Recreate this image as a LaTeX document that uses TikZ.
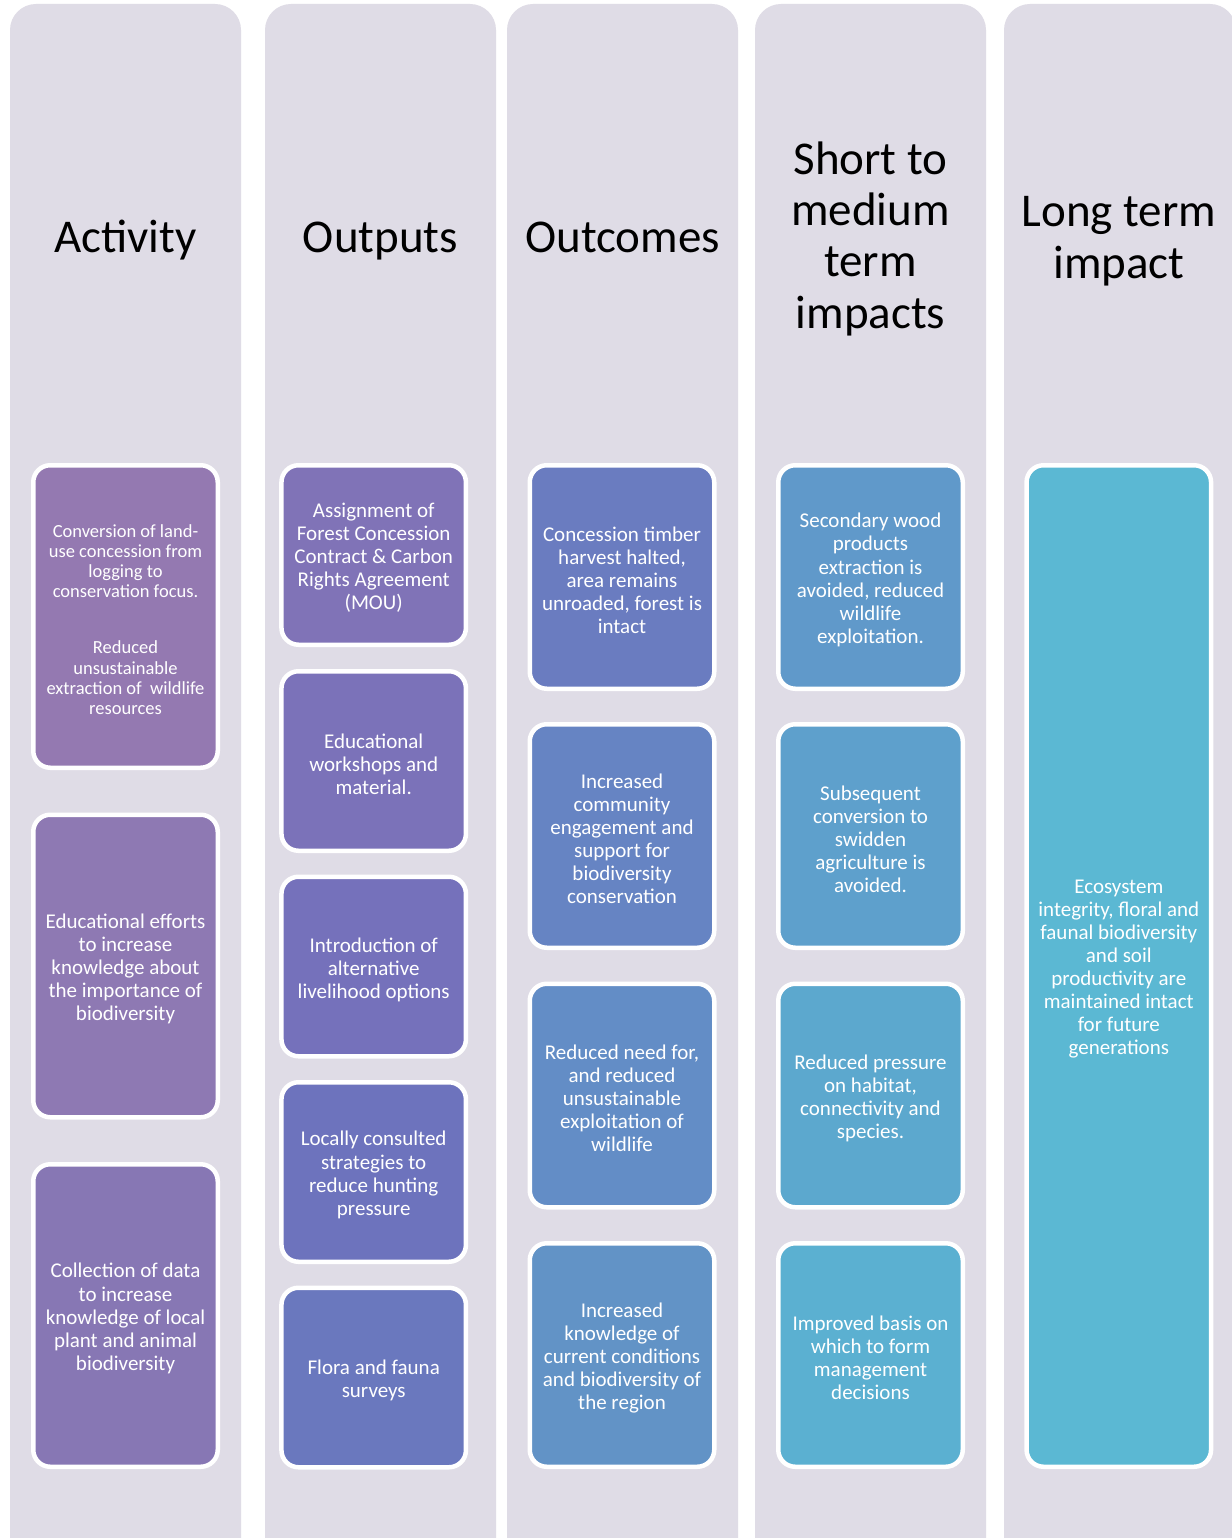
\documentclass[tikz,border=0pt]{standalone}
\usepackage{fontspec}
\setmainfont{Carlito}
\definecolor{lanec}{HTML}{DFDCE6}
\definecolor{ca1}{HTML}{9479B1}
\definecolor{ca2}{HTML}{8E79B3}
\definecolor{ca3}{HTML}{8777B4}
\definecolor{cb1}{HTML}{8073B7}
\definecolor{cb2}{HTML}{7B72B9}
\definecolor{cb3}{HTML}{7571BB}
\definecolor{cb4}{HTML}{6D73BD}
\definecolor{cb5}{HTML}{6A78BE}
\definecolor{cc1}{HTML}{6A7CC0}
\definecolor{cc2}{HTML}{6684C3}
\definecolor{cc3}{HTML}{638DC6}
\definecolor{cc4}{HTML}{6293C6}
\definecolor{cd1}{HTML}{6099CA}
\definecolor{cd2}{HTML}{5EA0CC}
\definecolor{cd3}{HTML}{5CA8CE}
\definecolor{cd4}{HTML}{5BB0D1}
\definecolor{ce1}{HTML}{5BB8D3}
\tikzset{
  lane/.style={fill=lanec, rounded corners=26pt},
  title/.style={align=center, text=black, font=\fontsize{47}{51.3}\selectfont, anchor=base},
  card/.style={draw=white, line width=4.5pt, rounded corners=17pt, rectangle,
    inner sep=0pt, minimum width=184.5pt},
  cardtext/.style={align=center, text=white, inner sep=0pt,
    font=\fontsize{21}{23.1}\selectfont},
  smalltext/.style={cardtext, font=\fontsize{18.5}{20.2}\selectfont}
}
% #1 name, #2 x, #3 y, #4 height, #5 colour, #6 text style, #7 text
\newcommand\mycard[7]{%
  \node[card, fill=#5, minimum height=#4] (#1) at (#2,#3) {};
  \node[#6] (#1t) at ([yshift=-3pt]#1.center) {#7};}
\begin{document}
\begin{tikzpicture}[x=1pt,y=-1pt]
\useasboundingbox (0,0) rectangle (1231,1538);
\fill[white] (0,0) rectangle (1231,1538);
% lanes
\fill[lane] (10,4) rectangle (241,1575);
\fill[lane] (265,4) rectangle (496,1575);
\fill[lane] (507,4) rectangle (738,1575);
\fill[lane] (755,4) rectangle (986,1575);
\fill[lane] (1004,4) rectangle (1236,1575);
% titles (base = baseline of the last line)
\node[title] (t1) at (125.5,253) {Activity};
\node[title] (t2) at (380.5,253) {Outputs};
\node[title] (t3) at (622.5,253) {Outcomes};
\node[title] (t4) at (870.5,328) {Short to\\medium\\term\\impacts};
\node[title] (t5) at (1119,278) {Long term\\impact};
% column 1
\mycard{a1}{125.5}{616.5}{302.5pt}{ca1}{smalltext}
  {Conversion of land-\\use concession from\\logging to\\conservation focus.\\[36pt]Reduced\\unsustainable\\extraction of\ \ wildlife\\resources}
\mycard{a2}{125.5}{966}{302.5pt}{ca2}{cardtext}
  {Educational efforts\\to increase\\knowledge about\\the importance of\\biodiversity}
\mycard{a3}{125.5}{1315.5}{302.5pt}{ca3}{cardtext}
  {Collection of data\\to increase\\knowledge of local\\plant and animal\\biodiversity}
% column 2
\mycard{b1}{373.7}{555}{179.5pt}{cb1}{cardtext}
  {Assignment of\\Forest Concession\\Contract \& Carbon\\Rights Agreement\\(MOU)}
\mycard{b2}{373.7}{761}{179.5pt}{cb2}{cardtext}
  {Educational\\workshops and\\material.}
\mycard{b3}{373.7}{966.5}{179.5pt}{cb3}{cardtext}
  {Introduction of\\alternative\\livelihood options}
\mycard{b4}{373.7}{1172}{179.5pt}{cb4}{cardtext}
  {Locally consulted\\strategies to\\reduce hunting\\pressure}
\mycard{b5}{373.7}{1377.5}{179.5pt}{cb5}{cardtext}
  {Flora and fauna\\surveys}
% column 3
\mycard{c1}{622}{577}{223.5pt}{cc1}{cardtext}
  {Concession timber\\harvest halted,\\area remains\\unroaded, forest is\\intact}
\mycard{c2}{622}{836}{223.5pt}{cc2}{cardtext}
  {Increased\\community\\engagement and\\support for\\biodiversity\\conservation}
\mycard{c3}{622}{1095.5}{223.5pt}{cc3}{cardtext}
  {Reduced need for,\\and reduced\\unsustainable\\exploitation of\\wildlife}
\mycard{c4}{622}{1355}{223.5pt}{cc4}{cardtext}
  {Increased\\knowledge of\\current conditions\\and biodiversity of\\the region}
% column 4
\mycard{d1}{870.5}{577}{223.5pt}{cd1}{cardtext}
  {Secondary wood\\products\\extraction is\\avoided, reduced\\wildlife\\exploitation.}
\mycard{d2}{870.5}{836}{223.5pt}{cd2}{cardtext}
  {Subsequent\\conversion to\\swidden\\agriculture is\\avoided.}
\mycard{d3}{870.5}{1095.5}{223.5pt}{cd3}{cardtext}
  {Reduced pressure\\on habitat,\\connectivity and\\species.}
\mycard{d4}{870.5}{1355}{223.5pt}{cd4}{cardtext}
  {Improved basis on\\which to form\\management\\decisions}
% column 5
\mycard{e1}{1118.8}{966}{1001.5pt}{ce1}{cardtext}
  {Ecosystem\\integrity, floral and\\faunal biodiversity\\and soil\\productivity are\\maintained intact\\for future\\generations}
\end{tikzpicture}
\end{document}
